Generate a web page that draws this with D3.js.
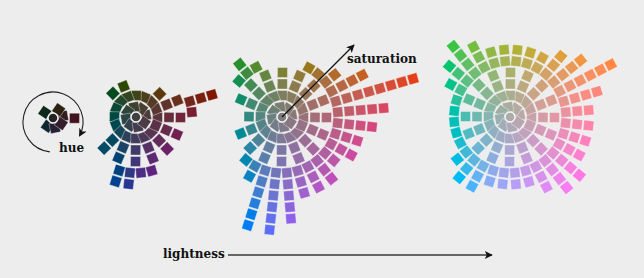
<!DOCTYPE html>
<html><head><meta charset="utf-8">
<script src="https://cdn.jsdelivr.net/npm/d3@7"></script>
<style>html,body{margin:0;padding:0;background:#fff}</style>
</head><body><svg id="c" width="644" height="278"></svg>
<script>
// 32 hue directions (degrees, counter-clockwise from the right)
const hues = d3.range(32).map(i => 5 + i*11.25);
// lightness of each slice
const lightness = [14, 27, 52, 70];
// number of saturation steps reached along each of the 32 hue directions, per slice
const stepsDark    = [2,1,1,1,1,1,1,0,0,0,0,1,1,1,1,0,0,0,0,1,1,1,1,1,1,1,1,1,1,1,1,1];
const stepsMid     = [5,7,4,3,3,2,2,2,2,3,3,3,3,2,2,2,2,2,2,4,4,4,6,6,5,5,4,4,4,4,4,4];
const stepsMedium  = [9,12,8,6,5,5,4,4,4,4,5,6,5,4,4,3,3,4,4,4,5,6,10,10,9,7,7,7,6,7,7,8];
const stepsLight   = [7,8,10,8,7,6,6,6,6,6,7,8,7,6,5,5,5,5,5,6,7,7,6,6,6,6,7,8,8,7,7,7];
const slices = [stepsDark, stepsMid, stepsMedium, stepsLight];
const labels = {hue: "hue", saturation: "saturation", lightness: "lightness"};

const centers = [[53,118],[136,117],[282,117],[510,117]];
const chromaStep = 11.5;
const rScale = d3.scaleLinear().domain([1, 2]).range([10, 21.5]);
const SQ = 10;

function luv(L,C,H){
  const Xn=0.95047,Yn=1,Zn=1.08883,d=Xn+15*Yn+3*Zn,un=4*Xn/d,vn=9*Yn/d;
  const h=H*Math.PI/180,u=C*Math.cos(h),v=C*Math.sin(h);
  const Y=L>8?Math.pow((L+16)/116,3):L/903.3;
  const up=u/(13*L)+un,vp=v/(13*L)+vn;
  const X=Y*9*up/(4*vp),Z=Y*(12-3*up-20*vp)/(4*vp);
  const lin=[3.2404542*X-1.5371385*Y-0.4985314*Z,-0.9692660*X+1.8760108*Y+0.0415560*Z,0.0556434*X-0.2040259*Y+1.0572252*Z];
  return d3.rgb(...lin.map(x=>{x=Math.max(0,Math.min(1,x));return 255*(x<=0.0031308?12.92*x:1.055*Math.pow(x,1/2.4)-0.055);})).formatHex();
}

const svg=d3.select("#c");
svg.append("rect").attr("width",644).attr("height",278).attr("fill","#ecedec");

const defs=svg.append("defs");
defs.append("marker").attr("id","ah").attr("viewBox","0 0 10 10").attr("refX",9).attr("refY",5)
  .attr("markerUnits","userSpaceOnUse").attr("markerWidth",10).attr("markerHeight",8).attr("orient","auto")
  .append("path").attr("d","M0,0 L10,5 L0,10 L2.5,5 z").attr("fill","#111");

slices.forEach((steps,w)=>{
  const L=lightness[w];
  const [cx,cy]=centers[w];
  const g=svg.append("g").attr("transform",`translate(${cx},${cy})`);
  const sq=[];
  hues.forEach((H,i)=>{for(let k=steps[i];k>=5;k--)sq.push({H,k});});
  for(let j=0;j<16;j++){
    const a=(2*j+31)%32,b=2*j;
    const n=Math.min(4,Math.max(steps[a],steps[b]));
    const H=(hues[a]-(a>b?360:0)+hues[b])/2;
    for(let k=n;k>=2;k--)sq.push({H,k});
  }
  for(let m=0;m<8;m++){
    const idx=[4*m-1,4*m,4*m+1,4*m+2].map(t=>(t+32)%32);
    const n=d3.max(idx,t=>steps[t]);
    const H=d3.mean(idx,t=>hues[t]-(t===31?360:0));
    if(n>=1)sq.push({H,k:1});
  }
  g.selectAll("rect").data(sq).join("rect")
   .attr("x",-SQ/2).attr("y",-SQ/2).attr("width",SQ).attr("height",SQ)
   .attr("transform",d=>`rotate(${-d.H}) translate(${rScale(d.k)},0)`)
   .attr("fill",d=>luv(L,d.k*chromaStep,d.H))
   .attr("stroke","rgba(255,255,255,0.5)").attr("stroke-width",0.7);
  g.append("circle").attr("r",5).attr("fill",luv(L,0.001,0)).attr("stroke","#f2f2f2").attr("stroke-width",1.5);
});

const font="DejaVu Serif";
const hp=d3.path();
hp.arc(53,122,30,96*Math.PI/180,388*Math.PI/180,false);
svg.append("path").attr("d",hp.toString()).attr("fill","none").attr("stroke","#222").attr("stroke-width",1.1).attr("marker-end","url(#ah)");
svg.append("text").attr("x",59).attr("y",152).attr("font-family",font).attr("font-weight","bold").attr("font-size",12).attr("fill","#111").text(labels.hue);
svg.append("line").attr("x1",282).attr("y1",117).attr("x2",354).attr("y2",45).attr("stroke","#111").attr("stroke-width",1.2).attr("marker-end","url(#ah)");
svg.append("text").attr("x",347).attr("y",63).attr("font-family",font).attr("font-weight","bold").attr("font-size",12).attr("fill","#111").text(labels.saturation);
svg.append("line").attr("x1",228).attr("y1",255).attr("x2",492).attr("y2",255).attr("stroke","#666").attr("stroke-width",2).attr("marker-end","url(#ah)");
svg.append("text").attr("x",163).attr("y",258).attr("font-family",font).attr("font-weight","bold").attr("font-size",12).attr("fill","#111").text(labels.lightness);
</script></body></html>
